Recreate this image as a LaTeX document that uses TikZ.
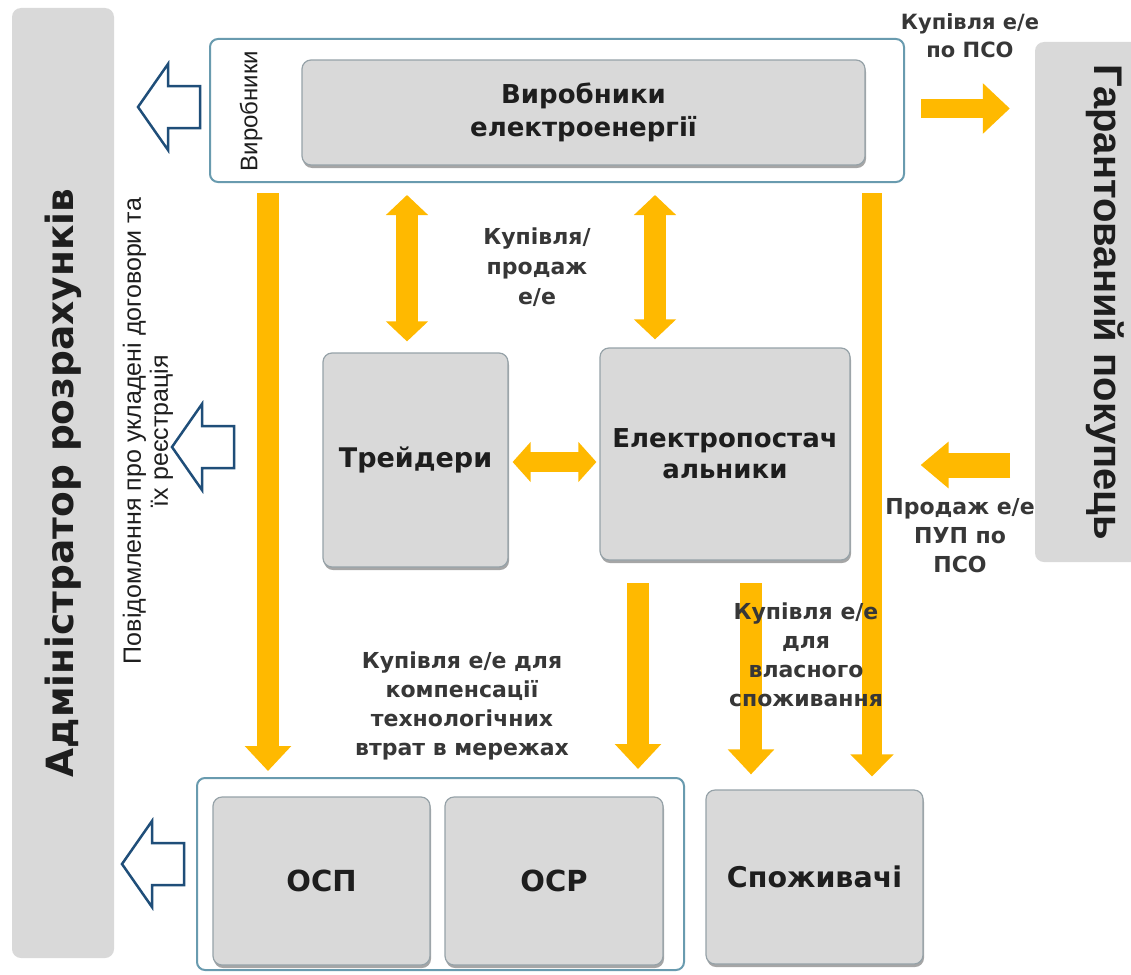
\documentclass[tikz,border=0pt]{standalone}
\usepackage{fontspec}
\setmainfont{DejaVu Sans}
\newfontfamily\lib{Liberation Sans}
\usetikzlibrary{arrows.meta,shadows}
\definecolor{org}{RGB}{255,185,0}
\definecolor{boxgray}{RGB}{217,217,217}
\definecolor{boxline}{RGB}{150,162,168}
\definecolor{grpline}{RGB}{105,155,175}
\definecolor{navy}{RGB}{31,78,121}
\definecolor{txt}{RGB}{30,30,30}
\definecolor{lbl}{RGB}{55,55,55}
\begin{document}
\begin{tikzpicture}[x=1pt,y=-1pt,
 graybox/.style={draw=boxline, line width=1.2pt, fill=boxgray, rounded corners=9pt, text=txt,
   font=\fontsize{27}{31}\selectfont\bfseries, align=center, inner sep=0pt,
   drop shadow={shadow xshift=1pt, shadow yshift=-3pt, fill=black, opacity=0.35}},
 grpbox/.style={draw=grpline, line width=2pt, fill=white, rounded corners=8pt, inner sep=0pt},
 sidebar/.style={fill=boxgray, rounded corners=9pt, inner sep=0pt, text=txt},
 oarrow/.style={draw=org, line width=22pt, -{Triangle[width=45pt,length=25pt]}},
 odbl/.style={draw=org, line width=22pt, {Triangle[width=41pt,length=20pt]}-{Triangle[width=41pt,length=20pt]}},
 flowlbl/.style={text=lbl, font=\fontsize{22}{29}\selectfont\bfseries, align=center, inner sep=0pt},
 hollow/.pic={\draw[navy, line width=2.5pt, fill=white, line join=miter]
   (0,0) -- (30,-43) -- (30,-21) -- (62,-21) -- (62,21) -- (30,21) -- (30,43) -- cycle;}
]
\useasboundingbox (0,0) rectangle (1131,974);
\fill[white] (0,0) rectangle (1131,974);

% side bars
\node[sidebar, rotate=90, minimum width=950pt, minimum height=102pt,
  font=\fontsize{37.5}{40}\selectfont\bfseries] (adm) at (63,483) {Адміністратор розрахунків};
\node[sidebar, rotate=-90, minimum width=520pt, minimum height=140pt,
  font=\lib\fontsize{40}{44}\selectfont\bfseries] (gp) at (1105,302) {Гарантований покупець};

% groups
\node[grpbox, minimum width=694pt, minimum height=143pt] (grpTop) at (557,110.5) {};
\node[grpbox, minimum width=487pt, minimum height=192pt] (grpBot) at (440.5,874) {};

% boxes
\node[graybox, minimum width=563pt, minimum height=105pt, font=\fontsize{26}{33}\selectfont\bfseries] (vyr) at (583.5,112.5) {Виробники\\електроенергії};
\node[rotate=90, font=\lib\fontsize{24}{28}\selectfont, text=txt, inner sep=0pt] (vyrlbl) at (251,111) {Виробники};
\node[graybox, minimum width=185pt, minimum height=214pt] (trd) at (415.5,460) {Трейдери};
\node[graybox, minimum width=250pt, minimum height=212pt, font=\fontsize{26}{31}\selectfont\bfseries] (elp) at (725,454) {Електропостач\\альники};
\node[graybox, minimum width=217pt, minimum height=168pt, font=\fontsize{29}{31}\selectfont\bfseries] (osp) at (321.5,881) {ОСП};
\node[graybox, minimum width=218pt, minimum height=168pt, font=\fontsize{29}{31}\selectfont\bfseries] (osr) at (554,881) {ОСР};
\node[graybox, minimum width=217pt, minimum height=174pt, font=\fontsize{28.5}{31}\selectfont\bfseries] (spo) at (814.5,877) {Споживачі};

% notification text
\node[rotate=90, font=\lib\fontsize{25}{27}\selectfont, text=txt, align=center, inner sep=0pt] (notif) at (148,431)
  {Повідомлення про укладені договори та\\їх реєстрація};

% hollow arrows
\pic (ha1) at (138,107) {hollow};
\pic (ha2) at (172,447) {hollow};
\pic (ha3) at (122,864) {hollow};

% orange arrows
\coordinate (s1) at (268,193);
\coordinate (s2) at (872,193);
\coordinate (s3) at (638,583);
\coordinate (s4) at (751,583);
\draw[oarrow, shorten >=6pt] (s1) -- (s1 |- grpBot.north);
\draw[oarrow, line width=20pt, -{Triangle[width=42pt,length=22pt]}, shorten >=13pt] (s2) -- (s2 |- spo.north);
\draw[oarrow, shorten >=8pt] (s3) -- (s3 |- grpBot.north);
\draw[oarrow, shorten >=15pt] (s4) -- (s4 |- spo.north);

\coordinate (d1) at (407,182);
\coordinate (d2) at (655,182);
\draw[odbl, shorten <=13pt, shorten >=11pt] (d1) -- (d1 |- trd.north);
\draw[odbl, shorten <=13pt, shorten >=8pt] (d2) -- (d2 |- elp.north);
\coordinate (h1) at ([yshift=-2pt]trd.east);
\draw[odbl, line width=20pt, {Triangle[width=39pt,length=18pt]}-{Triangle[width=39pt,length=18pt]},
  shorten <=4pt, shorten >=3pt] (h1) -- (h1 -| elp.west);

\coordinate (p1) at ([yshift=2pt]grpTop.east);
\draw[oarrow, line width=19pt, -{Triangle[width=49pt,length=27pt]}, shorten <=16pt, shorten >=25pt]
  (p1) -- (p1 -| gp.south);
\coordinate (q1) at (1010,465);
\draw[oarrow, line width=25pt, -{Triangle[width=45pt,length=28pt]}, shorten >=70pt] (q1) -- (q1 -| elp.east);

% flow labels
\node[flowlbl, font=\fontsize{21}{28}\selectfont\bfseries] (l1) at (970,36) {Купівля е/е\\по ПСО};
\node[flowlbl, font=\fontsize{22}{30}\selectfont\bfseries] (l2) at (537,267) {Купівля/\\продаж\\е/е};
\node[flowlbl] (l3) at (960,536) {Продаж е/е\\ПУП по\\ПСО};
\node[flowlbl] (l4) at (806,655) {Купівля е/е\\для\\власного\\споживання};
\node[flowlbl] (l5) at (462,706) {Купівля е/е для\\компенсації\\технологічних\\втрат в мережах};
\end{tikzpicture}
\end{document}
